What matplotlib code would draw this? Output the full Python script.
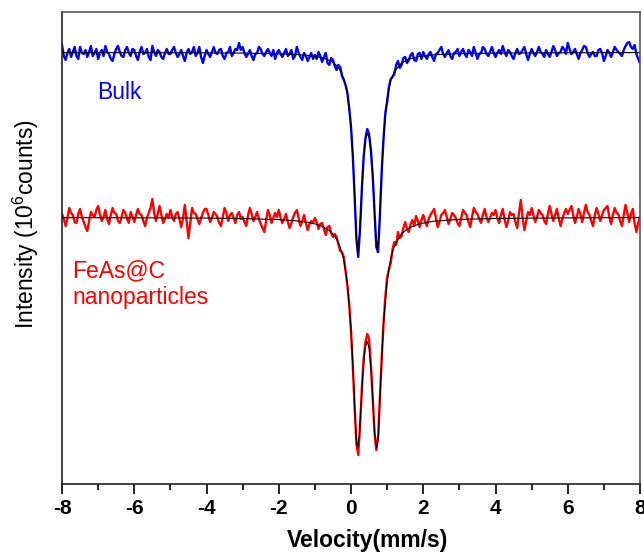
import numpy as np
import matplotlib
matplotlib.use("Agg")
import matplotlib.pyplot as plt

plt.rcParams['font.family'] = ['Liberation Sans', 'DejaVu Sans']
plt.rcParams['mathtext.default'] = 'regular'
plt.rcParams['axes.unicode_minus'] = False

# velocity channels (mm/s), 0.05 mm/s apart
velocity = np.linspace(-8, 8, 321)

# measured spectra, read off the picture (arbitrary intensity units)
# one row = 1 mm/s
bulk = [
    4.39, 4.28, 4.24, 4.31, 4.35, 4.27, 4.32, 4.37, 4.28, 4.25, 4.37, 4.31, 4.30, 4.34, 4.27, 4.32, 4.38, 4.28, 4.31, 4.35,
    4.25, 4.31, 4.34, 4.28, 4.38, 4.32, 4.30, 4.25, 4.23, 4.30, 4.35, 4.38, 4.32, 4.28, 4.27, 4.34, 4.37, 4.31, 4.28, 4.35,
    4.34, 4.28, 4.24, 4.32, 4.37, 4.30, 4.31, 4.35, 4.27, 4.24, 4.38, 4.32, 4.28, 4.34, 4.32, 4.27, 4.25, 4.31, 4.35, 4.30,
    4.30, 4.34, 4.37, 4.31, 4.27, 4.30, 4.34, 4.28, 4.23, 4.31, 4.35, 4.30, 4.32, 4.37, 4.28, 4.31, 4.37, 4.27, 4.21, 4.28,
    4.34, 4.30, 4.27, 4.32, 4.37, 4.31, 4.30, 4.34, 4.35, 4.28, 4.25, 4.31, 4.32, 4.37, 4.28, 4.31, 4.35, 4.34, 4.41, 4.34,
    4.37, 4.31, 4.27, 4.30, 4.34, 4.28, 4.24, 4.30, 4.31, 4.37, 4.35, 4.30, 4.28, 4.32, 4.35, 4.31, 4.28, 4.34, 4.25, 4.31,
    4.34, 4.30, 4.27, 4.31, 4.35, 4.28, 4.30, 4.34, 4.25, 4.28, 4.37, 4.31, 4.27, 4.24, 4.31, 4.28, 4.23, 4.27, 4.31, 4.25,
    4.29, 4.25, 4.32, 4.28, 4.22, 4.27, 4.31, 4.21, 4.19, 4.26, 4.24, 4.18, 4.14, 4.19, 4.17, 4.08, 4.04, 3.99, 3.91, 3.76,
    3.57, 3.28, 2.88, 2.45, 2.27, 2.55, 2.95, 3.27, 3.46, 3.55, 3.50, 3.34, 3.09, 2.72, 2.37, 2.32, 2.69, 3.13, 3.45, 3.71,
    3.82, 3.97, 4.05, 4.07, 4.10, 4.19, 4.23, 4.16, 4.19, 4.26, 4.27, 4.21, 4.24, 4.29, 4.31, 4.24, 4.23, 4.30, 4.31, 4.25,
    4.32, 4.28, 4.25, 4.30, 4.32, 4.27, 4.23, 4.30, 4.31, 4.34, 4.37, 4.30, 4.27, 4.31, 4.34, 4.28, 4.25, 4.31, 4.32, 4.35,
    4.28, 4.32, 4.35, 4.30, 4.27, 4.34, 4.32, 4.28, 4.37, 4.31, 4.25, 4.30, 4.31, 4.37, 4.35, 4.30, 4.28, 4.32, 4.37, 4.31,
    4.27, 4.31, 4.34, 4.30, 4.38, 4.32, 4.28, 4.34, 4.32, 4.28, 4.25, 4.31, 4.35, 4.30, 4.31, 4.34, 4.37, 4.30, 4.24, 4.30,
    4.35, 4.31, 4.28, 4.32, 4.37, 4.32, 4.30, 4.27, 4.34, 4.30, 4.27, 4.32, 4.38, 4.34, 4.28, 4.31, 4.32, 4.37, 4.35, 4.30,
    4.41, 4.35, 4.30, 4.32, 4.35, 4.30, 4.25, 4.31, 4.34, 4.38, 4.37, 4.31, 4.27, 4.30, 4.32, 4.28, 4.28, 4.34, 4.35, 4.31,
    4.23, 4.28, 4.34, 4.31, 4.27, 4.32, 4.37, 4.34, 4.32, 4.30, 4.28, 4.34, 4.38, 4.41, 4.42, 4.37, 4.35, 4.39, 4.30, 4.25,
    4.21]

nano = [
    2.70, 2.65, 2.58, 2.66, 2.76, 2.71, 2.69, 2.62, 2.61, 2.70, 2.75, 2.67, 2.62, 2.57, 2.53, 2.63, 2.72, 2.69, 2.67, 2.74,
    2.78, 2.70, 2.63, 2.67, 2.74, 2.65, 2.60, 2.69, 2.76, 2.71, 2.70, 2.63, 2.61, 2.67, 2.74, 2.71, 2.65, 2.61, 2.72, 2.67,
    2.62, 2.69, 2.75, 2.70, 2.69, 2.63, 2.58, 2.66, 2.71, 2.76, 2.85, 2.71, 2.63, 2.70, 2.78, 2.69, 2.61, 2.65, 2.70, 2.66,
    2.74, 2.67, 2.63, 2.70, 2.72, 2.65, 2.57, 2.66, 2.79, 2.63, 2.46, 2.61, 2.76, 2.71, 2.70, 2.65, 2.60, 2.66, 2.71, 2.75,
    2.75, 2.69, 2.62, 2.66, 2.72, 2.70, 2.67, 2.61, 2.58, 2.67, 2.76, 2.71, 2.63, 2.69, 2.71, 2.66, 2.61, 2.69, 2.72, 2.65,
    2.67, 2.62, 2.58, 2.69, 2.76, 2.70, 2.63, 2.67, 2.72, 2.65, 2.60, 2.56, 2.52, 2.63, 2.74, 2.69, 2.61, 2.66, 2.71, 2.67,
    2.74, 2.66, 2.61, 2.65, 2.70, 2.62, 2.56, 2.61, 2.67, 2.71, 2.74, 2.66, 2.58, 2.63, 2.69, 2.61, 2.54, 2.60, 2.63, 2.61,
    2.66, 2.62, 2.55, 2.60, 2.61, 2.55, 2.49, 2.57, 2.58, 2.51, 2.47, 2.50, 2.47, 2.40, 2.33, 2.32, 2.27, 2.13, 1.98, 1.80,
    1.53, 1.18, 0.77, 0.40, 0.29, 0.58, 0.95, 1.25, 1.42, 1.50, 1.45, 1.20, 0.87, 0.52, 0.34, 0.47, 0.86, 1.26, 1.60, 1.87,
    2.06, 2.15, 2.21, 2.35, 2.42, 2.39, 2.52, 2.46, 2.48, 2.56, 2.62, 2.55, 2.52, 2.60, 2.64, 2.58, 2.68, 2.63, 2.57, 2.64,
    2.69, 2.63, 2.58, 2.65, 2.69, 2.72, 2.75, 2.66, 2.57, 2.62, 2.69, 2.71, 2.74, 2.67, 2.60, 2.65, 2.71, 2.69, 2.66, 2.61,
    2.58, 2.66, 2.74, 2.71, 2.69, 2.62, 2.57, 2.67, 2.76, 2.72, 2.70, 2.65, 2.61, 2.69, 2.75, 2.67, 2.62, 2.66, 2.71, 2.69,
    2.74, 2.66, 2.61, 2.69, 2.75, 2.65, 2.57, 2.63, 2.72, 2.69, 2.70, 2.62, 2.56, 2.71, 2.84, 2.66, 2.54, 2.63, 2.72, 2.69,
    2.76, 2.69, 2.62, 2.67, 2.74, 2.71, 2.69, 2.63, 2.60, 2.70, 2.78, 2.70, 2.63, 2.69, 2.75, 2.66, 2.58, 2.65, 2.71, 2.75,
    2.70, 2.74, 2.78, 2.69, 2.61, 2.67, 2.75, 2.70, 2.62, 2.71, 2.79, 2.72, 2.69, 2.63, 2.58, 2.69, 2.76, 2.70, 2.63, 2.69,
    2.74, 2.76, 2.78, 2.67, 2.60, 2.69, 2.76, 2.71, 2.70, 2.63, 2.58, 2.69, 2.79, 2.71, 2.62, 2.70, 2.75, 2.61, 2.52, 2.61,
    2.67]

# fitted doublets (black lines)
v_fit_bulk = [-8, -6, -4, -3, -2, -1.5, -1.2, -1.0, -0.8, -0.6, -0.5, -0.4,
              -0.3, -0.2, -0.1, 0.0, 0.05, 0.1, 0.15, 0.19, 0.25, 0.3, 0.35,
              0.4, 0.46, 0.52, 0.57, 0.62, 0.67, 0.73, 0.78, 0.83, 0.9, 1.0,
              1.1, 1.2, 1.4, 1.6, 1.9, 2.3, 3, 4, 6, 8]
fit_bulk = [4.314, 4.313, 4.311, 4.309, 4.302, 4.295, 4.286, 4.277, 4.262,
            4.236, 4.216, 4.185, 4.137, 4.056, 3.903, 3.579, 3.288, 2.881,
            2.455, 2.285, 2.561, 2.958, 3.264, 3.441, 3.509, 3.441, 3.264,
            2.958, 2.561, 2.315, 2.529, 2.970, 3.475, 3.857, 4.033, 4.125,
            4.210, 4.248, 4.275, 4.292, 4.303, 4.309, 4.312, 4.314]

v_fit_nano = [-8, -6, -4, -3, -2, -1.5, -1.2, -1.0, -0.8, -0.6, -0.5, -0.4,
              -0.3, -0.2, -0.1, 0.0, 0.05, 0.1, 0.14, 0.18, 0.23, 0.28, 0.33,
              0.39, 0.445, 0.5, 0.56, 0.61, 0.66, 0.71, 0.76, 0.81, 0.9, 1.0,
              1.1, 1.2, 1.4, 1.6, 1.9, 2.3, 3, 4, 6, 8]
fit_nano = [2.663, 2.662, 2.659, 2.654, 2.644, 2.631, 2.616, 2.601, 2.577,
            2.534, 2.499, 2.449, 2.370, 2.241, 2.004, 1.550, 1.195, 0.776,
            0.482, 0.347, 0.478, 0.803, 1.120, 1.359, 1.429, 1.359, 1.120,
            0.803, 0.478, 0.360, 0.478, 0.946, 1.612, 2.035, 2.256, 2.380,
            2.504, 2.560, 2.602, 2.628, 2.646, 2.655, 2.661, 2.664]

fig = plt.figure(figsize=(6.44, 5.52), dpi=100)
ax = fig.add_axes([0.0963, 0.1232, 0.8975, 0.8551])

ax.plot(velocity, bulk, '-', color='#0000ff', lw=1.7)
ax.plot(velocity, nano, '-', color='#ff0000', lw=1.7)
ax.plot(v_fit_bulk, fit_bulk, '-', color='black', lw=0.8)
ax.plot(v_fit_nano, fit_nano, '-', color='black', lw=0.8)

ax.text(-7.03, 3.915, 'Bulk', color='#0000ff', fontsize=16.5,
        ha='left', va='center')
ax.text(-7.72, 2.0, 'FeAs@C\nnanoparticles', color='#ff0000', fontsize=16.5,
        ha='left', va='center', linespacing=1.2)

ax.set_xlim(-8, 8)
ax.set_ylim(0, 4.72)
ax.set_xticks(np.arange(-8, 9, 2))
ax.set_xticks(np.arange(-7, 8, 2), minor=True)
ax.set_yticks([])
ax.tick_params(axis='x', which='major', direction='out', length=7.5,
               width=1.2, pad=3, labelsize=15)
ax.tick_params(axis='x', which='minor', direction='out', length=4, width=1.2)
for lab in ax.get_xticklabels():
    lab.set_fontweight('bold')

for side in ['left', 'bottom']:
    ax.spines[side].set_color('#222222')
    ax.spines[side].set_linewidth(1.2)
for side in ['top', 'right']:
    ax.spines[side].set_color('#555555')
    ax.spines[side].set_linewidth(1.2)

ax.set_xlabel('Velocity(mm/s)', fontsize=16.5, fontweight='bold')
ax.xaxis.set_label_coords(0.529, -0.095)
ax.set_ylabel('Intensity (10$^6$counts)', fontsize=16.5)
ax.yaxis.set_label_coords(-0.036, 0.551)

plt.savefig("out.png", dpi=100)
plt.close()
